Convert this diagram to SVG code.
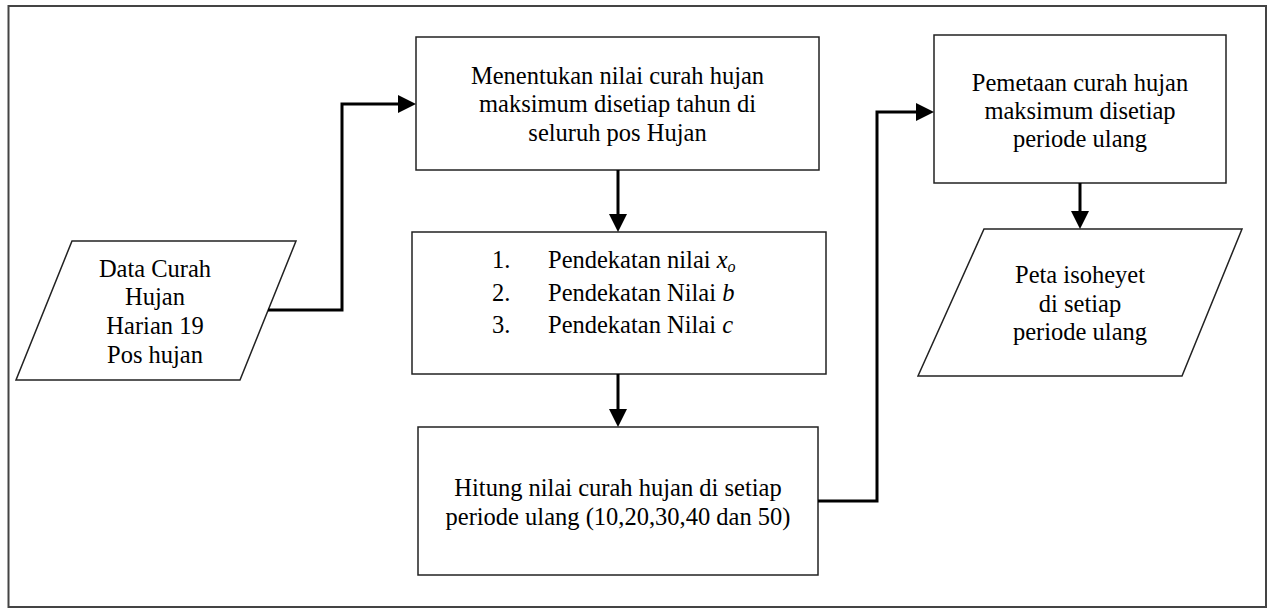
<svg xmlns="http://www.w3.org/2000/svg" width="1273" height="609" viewBox="0 0 1273 609">
<style>
  .box { fill: #ffffff; stroke: #222222; stroke-width: 1.5; }
  .frame { fill: #ffffff; stroke: #444444; stroke-width: 2; }
  .t { font-size: 24.5px; fill: #000000; }
  .c { text-anchor: middle; }
  .conn { fill: none; stroke: #000000; stroke-width: 3; }
</style>
<defs>
  <marker id="arr" markerUnits="userSpaceOnUse" markerWidth="18" markerHeight="18" refX="0" refY="9" orient="auto">
    <path d="M0,0 L18,9 L0,18 Z" fill="#000000"/>
  </marker>
</defs>
<rect class="frame" x="8.5" y="6" width="1257.5" height="601"/>

<g font-family="Liberation Serif, Times New Roman, DejaVu Serif, serif">
<g id="input-data">
  <polygon class="box" points="72,241 296,241 240,380 16,380"/>
  <text class="t c" x="155" y="277">Data Curah</text>
  <text class="t c" x="155" y="305">Hujan</text>
  <text class="t c" x="155" y="334">Harian 19</text>
  <text class="t c" x="155" y="363">Pos hujan</text>
</g>

<g id="menentukan">
  <rect class="box" x="416" y="37" width="403" height="133"/>
  <text class="t c" x="617.5" y="84">Menentukan nilai curah hujan</text>
  <text class="t c" x="617.5" y="112">maksimum disetiap tahun di</text>
  <text class="t c" x="617.5" y="141">seluruh pos Hujan</text>
</g>

<g id="pendekatan">
  <rect class="box" x="412" y="232" width="414" height="142"/>
  <text class="t" x="492" y="268">1.</text>
  <text class="t" x="548" y="268">Pendekatan nilai <tspan font-style="italic">x</tspan><tspan font-style="italic" font-size="16px" dy="4">o</tspan></text>
  <text class="t" x="492" y="301">2.</text>
  <text class="t" x="548" y="301">Pendekatan Nilai <tspan font-style="italic">b</tspan></text>
  <text class="t" x="492" y="333">3.</text>
  <text class="t" x="548" y="333">Pendekatan Nilai <tspan font-style="italic">c</tspan></text>
</g>

<g id="hitung">
  <rect class="box" x="418" y="427" width="400" height="148"/>
  <text class="t c" x="618" y="496">Hitung nilai curah hujan di setiap</text>
  <text class="t c" x="618" y="525">periode ulang (10,20,30,40 dan 50)</text>
</g>

<g id="pemetaan">
  <rect class="box" x="934" y="35" width="292" height="148"/>
  <text class="t c" x="1080" y="91">Pemetaan curah hujan</text>
  <text class="t c" x="1080" y="119">maksimum disetiap</text>
  <text class="t c" x="1080" y="147">periode ulang</text>
</g>

<g id="peta-isoheyet">
  <polygon class="box" points="984,229 1242,229 1182,376 918,376"/>
  <text class="t c" x="1080" y="283">Peta isoheyet</text>
  <text class="t c" x="1080" y="312">di setiap</text>
  <text class="t c" x="1080" y="340">periode ulang</text>
</g>
</g>

<g id="connectors">
  <path class="conn" d="M268,310 L342,310 L342,104 L398,104" marker-end="url(#arr)"/>
  <path class="conn" d="M618,170 L618,214" marker-end="url(#arr)"/>
  <path class="conn" d="M618,374 L618,409" marker-end="url(#arr)"/>
  <path class="conn" d="M818,501 L877,501 L877,112 L916,112" marker-end="url(#arr)"/>
  <path class="conn" d="M1080,183 L1080,211" marker-end="url(#arr)"/>
</g>
</svg>
